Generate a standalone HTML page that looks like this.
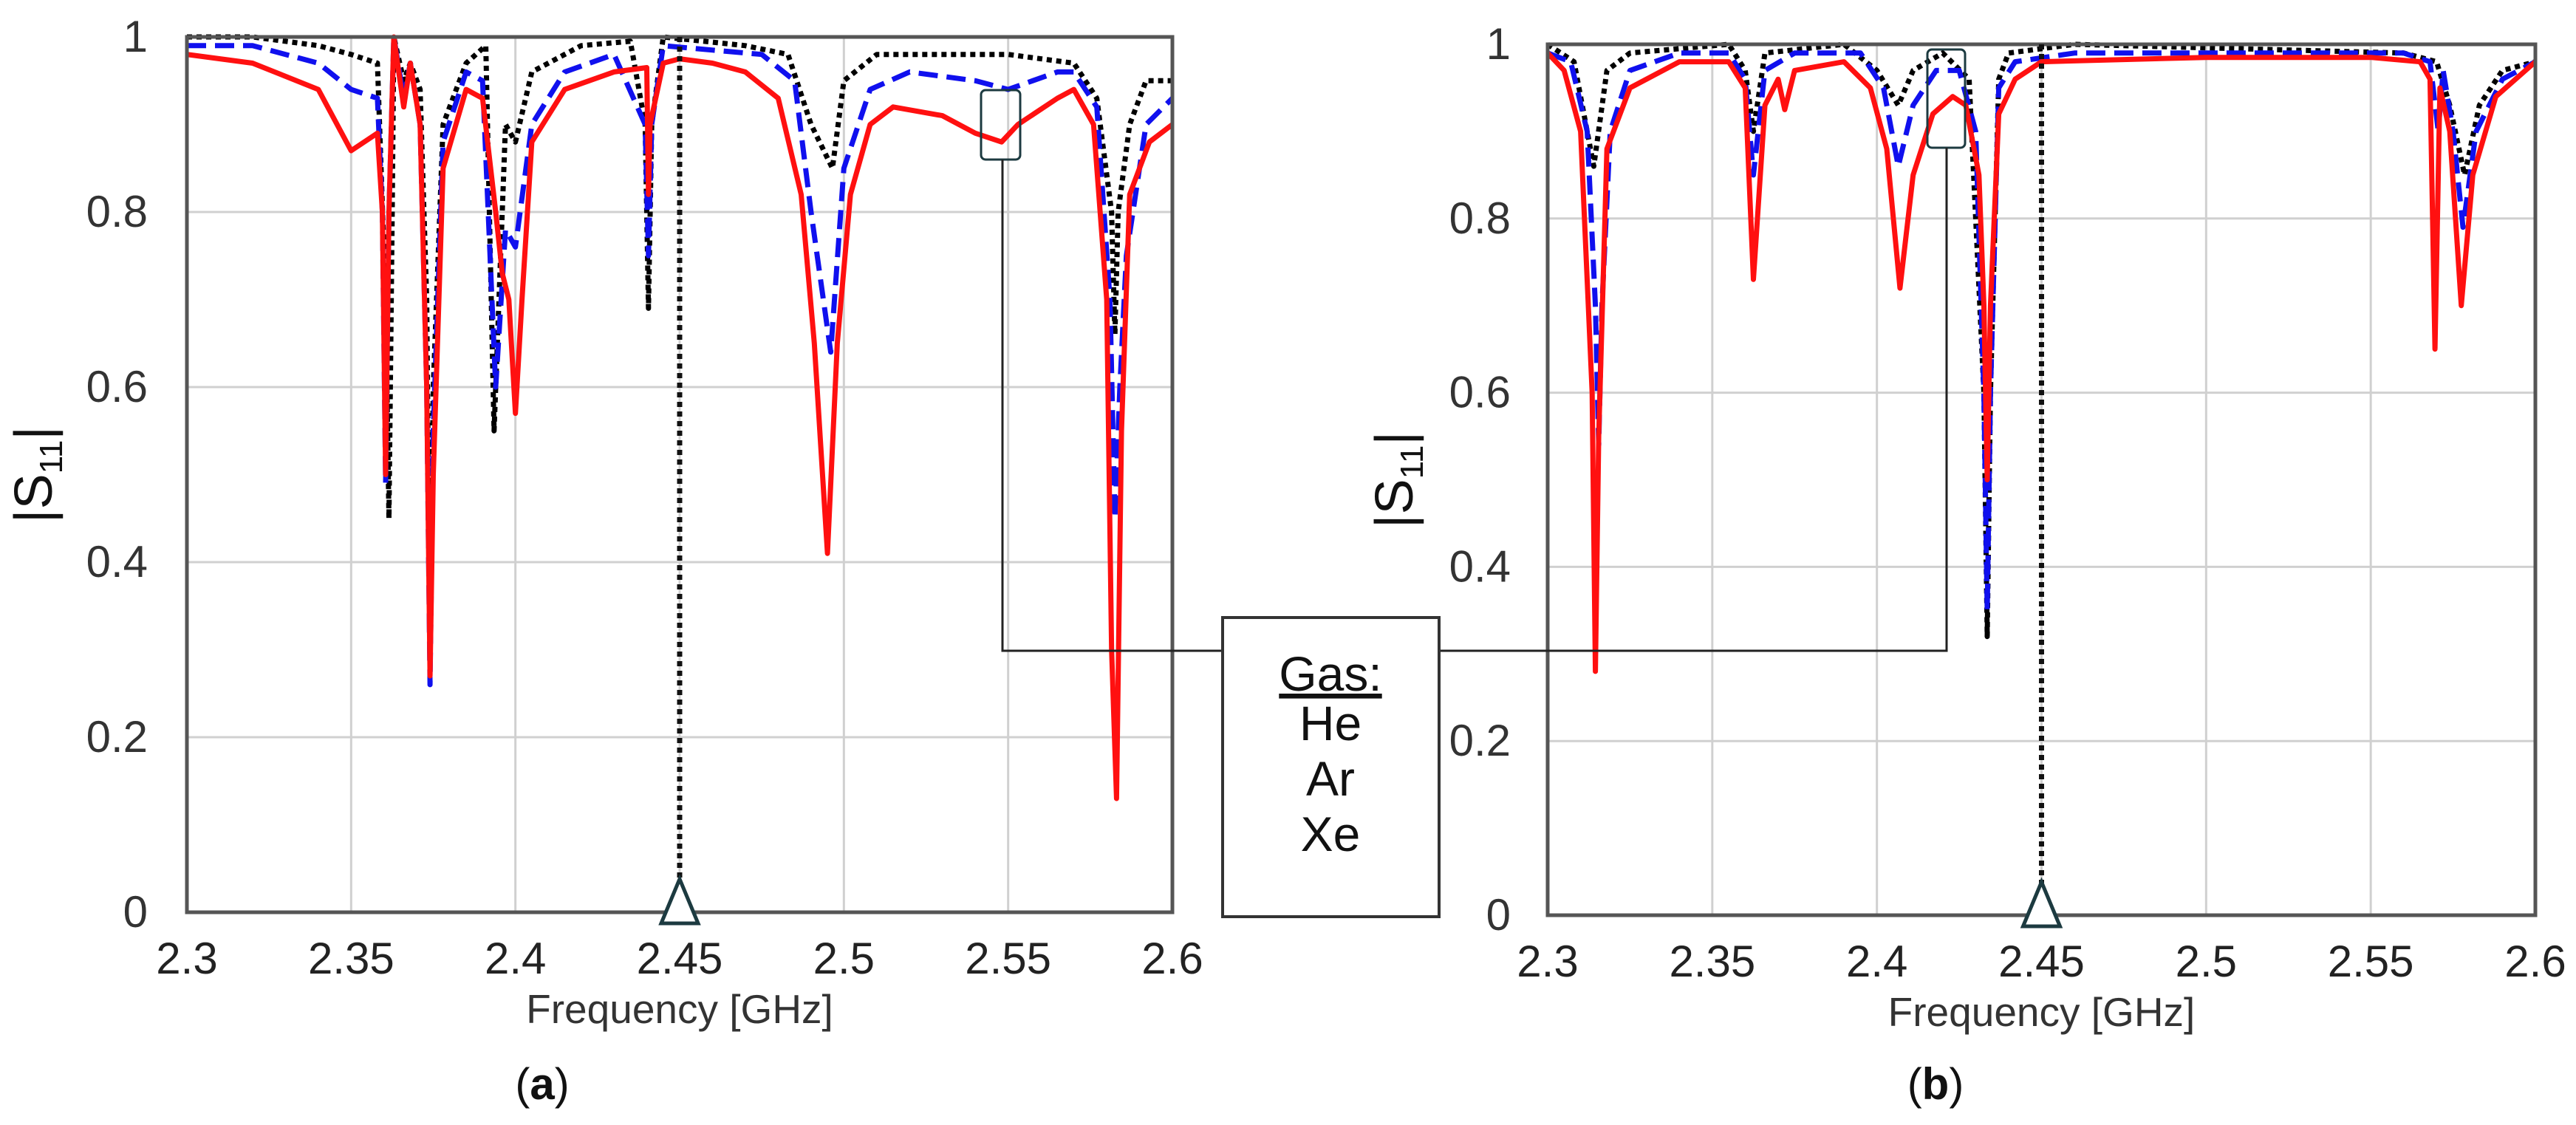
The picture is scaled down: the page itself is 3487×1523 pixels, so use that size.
<!DOCTYPE html>
<html><head><meta charset="utf-8">
<style>
html,body{margin:0;padding:0;background:#fff;}
svg{display:block;}
text{font-family:"Liberation Sans",sans-serif;}
</style></head>
<body>
<svg id="fig" width="3487" height="1523" viewBox="0 0 3487 1523" xmlns="http://www.w3.org/2000/svg">
</svg>
<script>
// ---- Data: panel (a) ----
const aHeF=[2.3,2.32,2.34,2.35,2.358,2.3605,2.3615,2.3625,2.363,2.366,2.368,2.371,2.373,2.374,2.375,2.378,2.385,2.391,2.3935,2.397,2.4,2.405,2.42,2.435,2.4395,2.4405,2.4415,2.445,2.47,2.483,2.49,2.4965,2.5,2.51,2.55,2.57,2.577,2.5815,2.5825,2.5835,2.587,2.592,2.6];
const aHeV=[1.0,1.0,0.99,0.98,0.97,0.7,0.45,0.8,1.0,0.95,0.97,0.94,0.7,0.3,0.6,0.9,0.97,0.99,0.55,0.9,0.88,0.96,0.99,0.995,0.9,0.69,0.9,1.0,0.99,0.98,0.9,0.85,0.95,0.98,0.98,0.97,0.93,0.8,0.66,0.8,0.9,0.95,0.95];
const aArF=[2.3,2.32,2.34,2.35,2.358,2.3595,2.3605,2.3615,2.363,2.366,2.368,2.371,2.373,2.374,2.375,2.378,2.385,2.39,2.394,2.397,2.4,2.405,2.415,2.43,2.4395,2.4405,2.4415,2.445,2.46,2.475,2.485,2.49,2.496,2.5,2.508,2.52,2.54,2.55,2.565,2.57,2.577,2.581,2.5825,2.584,2.586,2.592,2.6];
const aArV=[0.99,0.99,0.97,0.94,0.93,0.8,0.49,0.8,1.0,0.93,0.97,0.9,0.6,0.26,0.55,0.88,0.96,0.95,0.6,0.78,0.76,0.9,0.96,0.98,0.9,0.75,0.9,0.99,0.985,0.98,0.95,0.8,0.64,0.85,0.94,0.96,0.95,0.94,0.96,0.96,0.92,0.7,0.45,0.6,0.75,0.9,0.93];
const aXeF=[2.3,2.32,2.34,2.35,2.358,2.3595,2.3605,2.3615,2.363,2.366,2.368,2.371,2.373,2.374,2.375,2.378,2.385,2.39,2.394,2.396,2.398,2.4,2.402,2.405,2.415,2.43,2.44,2.4405,2.441,2.445,2.45,2.46,2.47,2.48,2.487,2.491,2.495,2.498,2.502,2.508,2.515,2.53,2.54,2.548,2.553,2.565,2.57,2.576,2.58,2.5815,2.583,2.5845,2.587,2.593,2.6];
const aXeV=[0.98,0.97,0.94,0.87,0.89,0.8,0.5,0.8,1.0,0.92,0.97,0.9,0.6,0.27,0.5,0.85,0.94,0.93,0.8,0.73,0.7,0.57,0.7,0.88,0.94,0.96,0.965,0.82,0.9,0.97,0.975,0.97,0.96,0.93,0.82,0.65,0.41,0.65,0.82,0.9,0.92,0.91,0.89,0.88,0.9,0.93,0.94,0.9,0.7,0.3,0.13,0.55,0.82,0.88,0.9];
// ---- Data: panel (b) ----
const bHeF=[2.3,2.308,2.314,2.318,2.325,2.355,2.36,2.3625,2.366,2.39,2.4,2.4065,2.411,2.42,2.428,2.4325,2.4335,2.4345,2.437,2.44,2.46,2.56,2.57,2.574,2.5785,2.583,2.59,2.6];
const bHeV=[1.0,0.98,0.86,0.97,0.99,1.0,0.97,0.9,0.99,1.0,0.97,0.93,0.97,0.99,0.96,0.6,0.32,0.6,0.96,0.99,1.0,0.99,0.98,0.93,0.85,0.93,0.97,0.98];
const bArF=[2.3,2.307,2.312,2.3145,2.3155,2.3165,2.319,2.325,2.34,2.355,2.36,2.3625,2.366,2.375,2.395,2.402,2.4065,2.411,2.418,2.425,2.43,2.4325,2.4335,2.4345,2.437,2.442,2.46,2.56,2.568,2.5705,2.572,2.575,2.578,2.582,2.59,2.6];
const bArV=[0.99,0.98,0.9,0.7,0.54,0.7,0.9,0.97,0.99,0.99,0.96,0.85,0.97,0.99,0.99,0.95,0.86,0.93,0.97,0.97,0.9,0.6,0.35,0.6,0.95,0.98,0.99,0.99,0.98,0.9,0.97,0.9,0.79,0.9,0.96,0.98];
const bXeF=[2.3,2.305,2.31,2.3135,2.3145,2.3155,2.318,2.325,2.34,2.355,2.36,2.3625,2.366,2.37,2.372,2.375,2.39,2.398,2.403,2.407,2.411,2.417,2.423,2.427,2.431,2.4325,2.4335,2.4345,2.437,2.442,2.45,2.5,2.55,2.565,2.568,2.5695,2.571,2.574,2.5775,2.581,2.588,2.6];
const bXeV=[0.99,0.97,0.9,0.6,0.28,0.55,0.88,0.95,0.98,0.98,0.95,0.73,0.93,0.96,0.925,0.97,0.98,0.95,0.88,0.72,0.85,0.92,0.94,0.93,0.85,0.7,0.5,0.7,0.92,0.96,0.98,0.985,0.985,0.98,0.96,0.65,0.95,0.9,0.7,0.85,0.94,0.98];
const xTicks=["2.3","2.35","2.4","2.45","2.5","2.55","2.6"];
const yTicks=["0","0.2","0.4","0.6","0.8","1"];

const NS="http://www.w3.org/2000/svg";
const svg=document.getElementById('fig');
function mk(tag,attrs,parent){const e=document.createElementNS(NS,tag);for(const k in attrs)e.setAttribute(k,attrs[k]);(parent||svg).appendChild(e);return e;}

function panel(id,L,T,R,B,series,yLabX,titleX,letter,letterX){
  const g=mk('g',{});
  
  
  const sx=f=>L+(f-2.3)/0.3*(R-L);
  const sy=v=>B-v*(B-T);
  xTicks.forEach(t=>{
    const x=sx(parseFloat(t));
    const gl=mk('line',{x1:x,x2:x,y1:T,y2:B,stroke:'#d0d0d0','stroke-width':3},g);
    
    
    const tl=mk('text',{x:x,y:B+83,'font-size':60,fill:'#222','text-anchor':'middle'},g);
    tl.textContent=t;
    
    
  });
  yTicks.forEach(t=>{
    const y=sy(parseFloat(t));
    const gl=mk('line',{x1:L,x2:R,y1:y,y2:y,stroke:'#d0d0d0','stroke-width':3},g);
    
    
    const tl=mk('text',{x:yLabX,y:y+20,'font-size':60,fill:'#333','text-anchor':'end'},g);
    tl.textContent=t;
    
    
  });
  const clip=mk('clipPath',{id:'clip-'+id},g);
  mk('rect',{x:L,y:T-10,width:R-L,height:B-T+10},clip);
  series.forEach(s=>{
    const d=s.f.map((f,i)=>(i?'L':'M')+sx(f).toFixed(1)+' '+sy(s.v[i]).toFixed(1)).join(' ');
    const p=mk('path',{d:d,fill:'none',stroke:s.c,'stroke-width':7,'stroke-dasharray':s.dash,'stroke-linejoin':'round','clip-path':'url(#clip-'+id+')'},g);
    
    
  });
  const fr=mk('rect',{x:L,y:T,width:R-L,height:B-T,fill:'none',stroke:'#555','stroke-width':5},g);
  
  
  const mx=sx(2.45);
  const ml=mk('line',{x1:mx,x2:mx,y1:T,y2:B-40,stroke:'#111','stroke-width':7,'stroke-dasharray':'7 6'},g);
  
  
  const tri=mk('polygon',{points:`${mx},${B-45} ${mx-25},${B+15} ${mx+25},${B+15}`,fill:'#fff',stroke:'#1c3a40','stroke-width':5},g);
  
  
  const xt=mk('text',{x:(L+R)/2,y:B+150,'font-size':55,fill:'#333','text-anchor':'middle'},g);
  xt.textContent='Frequency [GHz]';
  
  
  const yt=mk('text',{transform:`translate(${titleX},${(T+B)/2}) rotate(-90)`,'font-size':72,fill:'#111','text-anchor':'middle'},g);
  yt.innerHTML='|S<tspan font-size="44" dy="14">11</tspan><tspan dy="-14">|</tspan>';
  
  
  const lt=mk('text',{x:letterX,y:1488,'font-size':60,fill:'#111','text-anchor':'middle','font-family':'Liberation Serif, serif'},g);
  lt.innerHTML='(<tspan font-weight="bold">'+letter+'</tspan>)';
  
  
}
panel('a',253,50,1587,1235,[
  {f:aHeF,v:aHeV,c:'#000',dash:'7 6',name:'series-he-a'},
  {f:aArF,v:aArV,c:'#1010ee',dash:'26 12',name:'series-ar-a'},
  {f:aXeF,v:aXeV,c:'#ff1010',dash:'none',name:'series-xe-a'}],200,70,'a',734);
panel('b',2095,60,3432,1239,[
  {f:bHeF,v:bHeV,c:'#000',dash:'7 6',name:'series-he-b'},
  {f:bArF,v:bArV,c:'#1010ee',dash:'26 12',name:'series-ar-b'},
  {f:bXeF,v:bXeV,c:'#ff1010',dash:'none',name:'series-xe-b'}],2045,1912,'b',2620);

// callouts
const c1=mk('rect',{x:1328,y:122,width:53,height:94,rx:6,fill:'none',stroke:'#1c3a40','stroke-width':3});


const c2=mk('rect',{x:2609,y:67,width:51,height:133,rx:6,fill:'none',stroke:'#1c3a40','stroke-width':3});


const l1=mk('polyline',{points:'1357,216 1357,881 1655,881',fill:'none',stroke:'#222','stroke-width':3});


const l2=mk('polyline',{points:'1948,881 2635,881 2635,200',fill:'none',stroke:'#222','stroke-width':3});


const lg=mk('rect',{x:1655,y:836,width:293,height:405,fill:'#fff',stroke:'#333','stroke-width':4});


[['Gas:',935,'legend-title'],['He',1002,'legend-entry-he'],['Ar',1077,'legend-entry-ar'],['Xe',1152,'legend-entry-xe']].forEach(e=>{
  const t=mk('text',{x:1801,y:e[1],'font-size':66,fill:'#111','text-anchor':'middle'});
  t.textContent=e[0];
  if(e[0]==='Gas:')t.setAttribute('text-decoration','underline');
  
  
});
</script>
</body></html>
